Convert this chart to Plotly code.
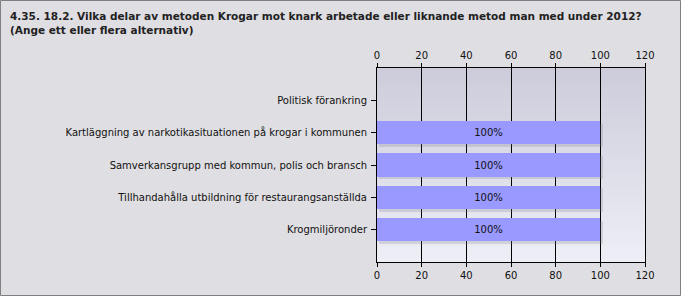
import plotly.graph_objects as go

categories = [
    "Politisk förankring",
    "Kartläggning av narkotikasituationen på krogar i kommunen",
    "Samverkansgrupp med kommun, polis och bransch",
    "Tillhandahålla utbildning för restaurangsanställda",
    "Krogmiljöronder",
]
values = [0, 100, 100, 100, 100]
labels = ["" if v == 0 else f"{v}%" for v in values]
tick_values = [0, 20, 40, 60, 80, 100, 120]
title_text = ("4.35. 18.2. Vilka delar av metoden Krogar mot knark arbetade eller liknande metod man med under 2012?"
              "<br>(Ange ett eller flera alternativ)")

W, H = 681, 296
L, R, T, B = 377, 645, 68, 262
FONT = "DejaVu Sans"

fig = go.Figure()

# shadow (base axes, drawn beneath)
fig.add_trace(go.Bar(
    y=categories, x=values, orientation="h",
    base=1.0, width=0.72, offset=-0.36 + 0.08,
    marker=dict(color="rgba(120,120,135,0.22)", line=dict(width=0)),
    hoverinfo="skip", showlegend=False, xaxis="x", yaxis="y",
))
# main bars (overlay axes, drawn on top)
fig.add_trace(go.Bar(
    y=categories, x=values, orientation="h",
    width=0.72,
    marker=dict(color="#9999FF", line=dict(width=0)),
    text=labels, textposition="inside", insidetextanchor="middle",
    textfont=dict(family=FONT, size=10, color="#111"),
    showlegend=False, xaxis="x2", yaxis="y",
))

# gradient background of the plot area
n = 48
c0 = (204, 204, 219)
c1 = (238, 238, 246)
for i in range(n):
    f = i / (n - 1)
    col = tuple(round(c0[k] + (c1[k] - c0[k]) * f) for k in range(3))
    fig.add_shape(type="rect", xref="paper", yref="paper",
                  x0=0, x1=1, y0=1 - (i + 1) / n, y1=1 - i / n + 0.002,
                  fillcolor=f"rgb{col}", line=dict(width=0), layer="below")

pw, ph = R - L, B - T
def px_x(p): return (p - L) / pw
def px_y(p): return (B - p) / ph

# outer border
fig.add_shape(type="rect", xref="paper", yref="paper",
              x0=px_x(0.5), x1=px_x(W - 0.5), y0=px_y(H - 0.5), y1=px_y(0.5),
              line=dict(color="#808080", width=1), fillcolor="rgba(0,0,0,0)", layer="above")

fig.add_annotation(text=f"<b>{title_text}</b>", xref="paper", yref="paper",
                   x=px_x(8), y=px_y(8), xanchor="left", yanchor="top", align="left",
                   showarrow=False, font=dict(family=FONT, size=10.5, color="#222"))

axis_common = dict(
    range=[0, 120], tickvals=tick_values, showline=True, linecolor="black", linewidth=1,
    ticks="outside", ticklen=4, tickcolor="black",
    tickfont=dict(family=FONT, size=10, color="#111"), zeroline=False,
)
fig.update_layout(
    width=W, height=H,
    margin=dict(l=L, r=W - R, t=T, b=H - B, pad=0),
    paper_bgcolor="#DFDEE2", plot_bgcolor="rgba(0,0,0,0)",
    barmode="overlay", bargap=0,
    xaxis=dict(**axis_common, side="bottom", showgrid=True, gridcolor="black", gridwidth=1),
    xaxis2=dict(**axis_common, side="top", overlaying="x", matches="x", showgrid=False),
    yaxis=dict(type="category", categoryarray=categories, range=[5, -1], autorange=False,
               showline=True, mirror=True, linecolor="black", linewidth=1, ticks="outside", ticklen=5,
               tickcolor="black", ticklabelstandoff=2,
               tickfont=dict(family=FONT, size=10, color="#111"), showgrid=False),
)

fig.write_html("out.html")
